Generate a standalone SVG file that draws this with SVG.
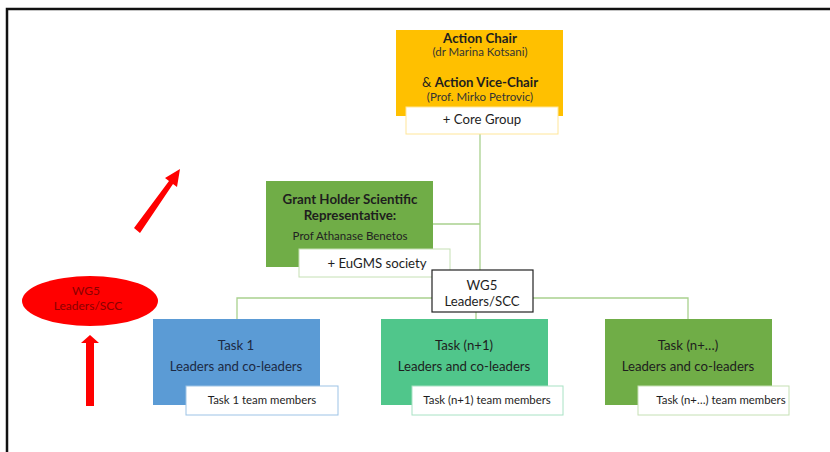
<svg xmlns="http://www.w3.org/2000/svg" width="830" height="452" viewBox="0 0 830 452">
<defs>
<style>
text{font-family:Lato,"Open Sans","Liberation Sans",sans-serif;text-anchor:middle;fill:#1e1e1e}
.b{font-weight:bold;font-size:13.3px}
.s{font-size:11.5px;fill:#333}
.m{font-size:13.2px}
.t{font-size:11.4px}
.conn{stroke:#A9D18E;stroke-width:1.3;fill:none}
.sub{fill:#fff;stroke-width:1}
</style>
</defs>
<rect width="830" height="452" fill="#fff"/>
<polyline points="7,452 7,9 830,9" fill="none" stroke="#111" stroke-width="2.5"/>

<g id="connectors">
<line class="conn" x1="480" y1="134" x2="480" y2="271"/>
<line class="conn" x1="433" y1="224" x2="480" y2="224"/>
<polyline class="conn" points="237,319 237,298 433,298"/>
<polyline class="conn" points="533,298 688,298 688,319"/>
<line class="conn" x1="476" y1="312" x2="476" y2="319"/>
</g>

<g id="action-chair">
<rect x="396" y="30" width="167" height="86" fill="#FFC000"/>
<text x="480" y="43" class="b">Action Chair</text>
<text x="480" y="56" class="s">(dr Marina Kotsani)</text>
<text x="480" y="87" class="m">&amp; <tspan font-weight="bold">Action Vice-Chair</tspan></text>
<text x="480" y="101" class="s">(Prof. Mirko Petrovic)</text>
</g>
<g id="core-group">
<rect x="406" y="107" width="152" height="27" class="sub" stroke="#FFE699"/>
<text x="482" y="124" class="m">+ Core Group</text>
</g>

<g id="grant-holder">
<rect x="266" y="181" width="167" height="86" fill="#70AD47"/>
<text x="350" y="204" class="b">Grant Holder Scientific</text>
<text x="350" y="220" class="b">Representative:</text>
<text x="350" y="240" class="s" style="fill:#222">Prof Athanase Benetos</text>
</g>
<g id="eugms">
<rect x="299" y="249" width="151" height="28" class="sub" stroke="#C5E0B4"/>
<text x="377" y="268" class="m">+ EuGMS society</text>
</g>

<g id="wg5">
<rect x="432" y="270" width="101" height="42" fill="#fff" stroke="#222" stroke-width="1.2"/>
<text x="482" y="290" class="m">WG5</text>
<text x="482" y="306" class="m">Leaders/SCC</text>
</g>

<g id="task1">
<rect x="153" y="319" width="167" height="86" fill="#5B9BD5"/>
<text x="236" y="350" class="m" style="fill:#1c2a44">Task 1</text>
<text x="236" y="371" class="m" style="fill:#1c2a44">Leaders and co-leaders</text>
</g>
<g id="task1-members">
<rect x="186" y="386" width="152" height="29" class="sub" stroke="#9DC3E6"/>
<text x="262" y="404" class="t">Task 1 team members</text>
</g>

<g id="task-n1">
<rect x="381" y="319" width="167" height="86" fill="#50C68B"/>
<text x="464" y="350" class="m">Task (n+1)</text>
<text x="464" y="371" class="m">Leaders and co-leaders</text>
</g>
<g id="task-n1-members">
<rect x="412" y="386" width="151" height="29" class="sub" stroke="#A8E2C4"/>
<text x="487" y="404" class="t">Task (n+1) team members</text>
</g>

<g id="task-nx">
<rect x="605" y="319" width="167" height="86" fill="#70AD47"/>
<text x="688" y="350" class="m">Task (n+…)</text>
<text x="688" y="371" class="m">Leaders and co-leaders</text>
</g>
<g id="task-nx-members">
<rect x="638" y="386" width="151" height="29" class="sub" stroke="#C5E0B4"/>
<text x="721" y="404" class="t">Task (n+…) team members</text>
</g>

<g id="wg5-red">
<ellipse cx="90" cy="301" rx="68" ry="25" fill="#FF0000"/>
<text x="86" y="295" style="font-size:12px;fill:#8B0000">WG5</text>
<text x="88" y="310" style="font-size:12px;fill:#8B0000">Leaders/SCC</text>
</g>

<g id="red-arrows" fill="#FF0000">
<polygon points="86,406 94,406 94,343 99,343 90,335 81,343 86,343"/>
<polygon points="134,228 140,233 173,184 177,187 180,169 165,178 169,181"/>
</g>
</svg>
